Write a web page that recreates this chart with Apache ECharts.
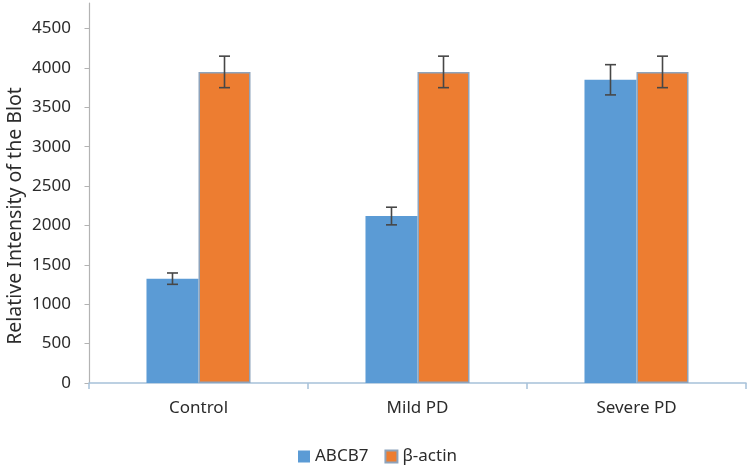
<!DOCTYPE html>
<html>
<head>
<meta charset="utf-8">
<script src="https://cdn.jsdelivr.net/npm/echarts@6/dist/echarts.min.js"></script>
<style>html,body{margin:0;padding:0;background:#fff;}#c{width:750px;height:465px;}</style>
</head>
<body>
<div id="c"></div>
<script>
var categories = ['Control', 'Mild PD', 'Severe PD'];
var abcb7 = [1325, 2120, 3850];
var abcb7Err = [72, 112, 192];
var bactin = [3950, 3950, 3950];
var bactinErr = [200, 200, 200];
var yTicks = [0, 500, 1000, 1500, 2000, 2500, 3000, 3500, 4000, 4500];

var FONT = 'Noto Sans';
var TXT = '#2b2b2b';
var BAR_FRAC = 0.2375;

function errSeries(name, vals, errs, sign) {
  return {
    type: 'custom',
    name: name + ' err',
    silent: true,
    z: 10,
    renderItem: function (params, api) {
      var i = api.value(0);
      var v = api.value(1);
      var e = api.value(2);
      var c = api.coord([i, v]);
      var catW = api.size([1, 0])[0];
      var x = c[0] + sign * catW * BAR_FRAC / 2;
      var top = api.coord([i, v + e])[1];
      var bot = api.coord([i, v - e])[1];
      var cap = 5.5;
      var st = { stroke: '#474747', lineWidth: 1.6 };
      return {
        type: 'group',
        children: [
          { type: 'line', shape: { x1: x, y1: top, x2: x, y2: bot }, style: st },
          { type: 'line', shape: { x1: x - cap, y1: top, x2: x + cap, y2: top }, style: st },
          { type: 'line', shape: { x1: x - cap, y1: bot, x2: x + cap, y2: bot }, style: st }
        ]
      };
    },
    data: vals.map(function (v, k) { return [k, v, errs[k]]; })
  };
}

var chart = echarts.init(document.getElementById('c'), null, { renderer: 'canvas' });
chart.setOption({
  animation: false,
  backgroundColor: '#fff',
  textStyle: { fontFamily: FONT },
  grid: { left: 89, right: 4, top: 3, bottom: 82 },
  legend: {
    top: 443,
    left: 293,
    itemWidth: 12,
    itemHeight: 12,
    itemGap: 16,
    icon: 'rect',
    data: ['ABCB7', 'β-actin'],
    textStyle: { fontFamily: FONT, fontSize: 17, color: TXT }
  },
  xAxis: {
    type: 'category',
    data: categories,
    axisLine: { lineStyle: { color: '#a7c1d9', width: 1.5 } },
    axisTick: { show: true, length: 6, lineStyle: { color: '#a7c1d9', width: 1.5 } },
    axisLabel: { fontFamily: FONT, fontSize: 17, color: TXT, margin: 17 }
  },
  yAxis: {
    type: 'value',
    min: 0,
    max: 4825,
    interval: 500,
    splitLine: { show: false },
    axisLine: { show: true, lineStyle: { color: '#b3b3b3', width: 1.2 } },
    axisTick: { show: true, length: 4.5, lineStyle: { color: '#b3b3b3' } },
    axisLabel: {
      fontFamily: FONT, fontSize: 17, color: TXT, margin: 18, showMaxLabel: false,
      formatter: function (v) { return yTicks.indexOf(v) >= 0 ? String(v) : ''; }
    }
  },
  graphic: [{
    type: 'text',
    x: 15, y: 216,
    rotation: Math.PI / 2,
    style: {
      text: 'Relative Intensity of the Blot',
      font: '19.5px "Noto Sans"',
      fill: TXT,
      align: 'center',
      verticalAlign: 'middle'
    }
  }],
  series: [
    {
      name: 'ABCB7',
      type: 'bar',
      data: abcb7,
      barWidth: (BAR_FRAC * 100) + '%',
      barGap: '0%',
      itemStyle: { color: '#5b9bd5' }
    },
    {
      name: 'β-actin',
      type: 'bar',
      data: bactin,
      barWidth: (BAR_FRAC * 100) + '%',
      barGap: '0%',
      itemStyle: { color: '#ed7d31', borderColor: '#8ea3bb', borderWidth: 1.5 }
    },
    errSeries('ABCB7', abcb7, abcb7Err, -1),
    errSeries('β-actin', bactin, bactinErr, 1)
  ]
});
</script>
</body>
</html>
